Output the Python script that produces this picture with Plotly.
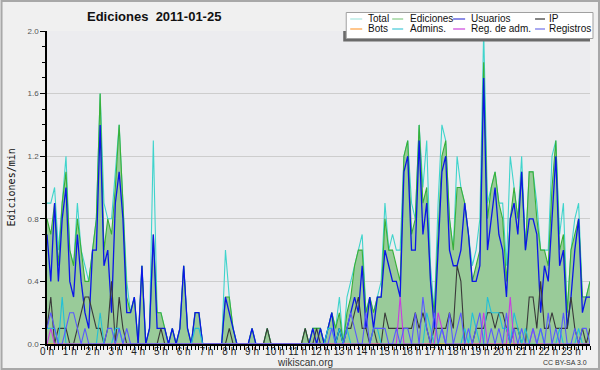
import plotly.graph_objects as go

# ---------------- data (10-minute bins, edits per minute) ----------------
minutes = list(range(0, 1440, 10))
hour_ticks = [0, 60, 120, 180, 240, 300, 360, 420, 480, 540, 600, 660,
              720, 780, 840, 900, 960, 1020, 1080, 1140, 1200, 1260, 1320, 1380]
hour_labels = ["0 h", "1 h", "2 h", "3 h", "4 h", "5 h", "6 h", "7 h", "8 h", "9 h",
               "10 h", "11 h", "12 h", "13 h", "14 h", "15 h", "16 h", "17 h", "18 h",
               "19 h", "20 h", "21 h", "22 h", "23 h"]
y_ticks = [0.0, 0.4, 0.8, 1.2, 1.6, 2.0]

total = [
    0.9, 0.9, 1.0, 0.6, 0.9, 1.2,   0.6, 0.5, 0.9, 0.6, 0.5, 0.4,
    0.6, 0.8, 1.6, 0.9, 0.8, 0.8,   1.1, 1.4, 0.9, 0.4, 0.2, 0.3,
    0.0, 0.5, 0.0, 0.1, 1.3, 0.2,   0.2, 0.1, 0.0, 0.1, 0.0, 0.1,
    0.5, 0.1, 0.0, 0.2, 0.2, 0.0,   0.0, 0.0, 0.0, 0.0, 0.0, 0.6,
    0.3, 0.1, 0.0, 0.0, 0.0, 0.0,   0.1, 0.0, 0.0, 0.0, 0.1, 0.0,
    0.0, 0.0, 0.0, 0.0, 0.0, 0.0,   0.0, 0.0, 0.1, 0.0, 0.1, 0.1,
    0.1, 0.0, 0.1, 0.2, 0.1, 0.3,   0.0, 0.3, 0.4, 0.5, 0.6, 0.7,
    0.2, 0.3, 0.2, 0.3, 0.4, 0.9,   0.6, 0.7, 0.6, 0.6, 1.2, 1.3,
    0.9, 0.8, 1.4, 1.0, 1.3, 0.5,   0.2, 0.9, 1.4, 1.3, 0.8, 0.6,
    1.2, 1.0, 0.9, 0.7, 0.5, 0.6,   0.8, 2.0, 0.9, 1.0, 1.1, 0.9,
    0.9, 0.5, 1.2, 1.0, 0.8, 1.2,   0.6, 1.1, 1.1, 0.9, 0.6, 0.6,
    0.6, 1.2, 1.3, 0.7, 0.9, 0.2,   0.6, 0.8, 0.9, 0.3, 0.3, 0.4,
]
ediciones = [
    0.8, 0.7, 0.9, 0.5, 0.9, 1.1,   0.6, 0.5, 0.8, 0.6, 0.4, 0.4,
    0.6, 0.8, 1.6, 0.6, 0.8, 0.7,   1.0, 1.4, 0.9, 0.3, 0.2, 0.3,
    0.0, 0.5, 0.0, 0.1, 0.7, 0.2,   0.2, 0.1, 0.0, 0.1, 0.0, 0.1,
    0.5, 0.1, 0.0, 0.2, 0.2, 0.0,   0.0, 0.0, 0.0, 0.0, 0.0, 0.3,
    0.3, 0.1, 0.0, 0.0, 0.0, 0.0,   0.1, 0.0, 0.0, 0.0, 0.1, 0.0,
    0.0, 0.0, 0.0, 0.0, 0.0, 0.0,   0.0, 0.0, 0.1, 0.0, 0.1, 0.1,
    0.1, 0.0, 0.1, 0.2, 0.1, 0.2,   0.0, 0.2, 0.3, 0.5, 0.6, 0.6,
    0.2, 0.3, 0.2, 0.3, 0.3, 0.8,   0.6, 0.6, 0.5, 0.4, 1.2, 1.3,
    0.7, 0.8, 1.4, 0.9, 1.0, 0.4,   0.2, 0.7, 1.2, 1.3, 0.8, 0.6,
    1.0, 1.0, 0.9, 0.7, 0.4, 0.5,   0.6, 1.8, 0.8, 1.0, 1.1, 0.9,
    0.8, 0.4, 0.8, 1.0, 0.8, 1.1,   0.6, 1.1, 1.1, 0.8, 0.6, 0.6,
    0.5, 1.0, 1.3, 0.6, 0.7, 0.2,   0.6, 0.7, 0.8, 0.3, 0.3, 0.4,
]
usuarios = [
    0.7, 0.4, 0.9, 0.4, 0.8, 1.0,   0.4, 0.3, 0.7, 0.4, 0.2, 0.1,
    0.6, 0.6, 1.4, 0.5, 0.6, 0.2,   0.9, 1.1, 0.8, 0.2, 0.2, 0.3,
    0.0, 0.5, 0.0, 0.1, 0.7, 0.1,   0.1, 0.1, 0.0, 0.1, 0.0, 0.1,
    0.5, 0.1, 0.0, 0.2, 0.2, 0.0,   0.0, 0.0, 0.0, 0.0, 0.0, 0.3,
    0.2, 0.1, 0.0, 0.0, 0.0, 0.0,   0.1, 0.0, 0.0, 0.0, 0.0, 0.0,
    0.0, 0.0, 0.0, 0.0, 0.0, 0.0,   0.0, 0.0, 0.0, 0.0, 0.1, 0.0,
    0.1, 0.0, 0.1, 0.2, 0.0, 0.1,   0.0, 0.1, 0.2, 0.3, 0.2, 0.5,
    0.1, 0.3, 0.1, 0.3, 0.3, 0.6,   0.5, 0.4, 0.4, 0.3, 1.1, 1.2,
    0.6, 0.6, 1.3, 0.7, 0.9, 0.4,   0.1, 0.6, 1.1, 1.2, 0.6, 0.5,
    0.5, 0.6, 0.9, 0.7, 0.4, 0.4,   0.5, 1.7, 0.6, 0.8, 1.0, 0.7,
    0.6, 0.3, 0.8, 0.9, 0.7, 1.1,   0.6, 0.8, 0.8, 0.7, 0.2, 0.5,
    0.4, 0.8, 1.2, 0.5, 0.6, 0.1,   0.3, 0.6, 0.8, 0.2, 0.3, 0.3,
]
ip = [
    0.1, 0.3, 0.0, 0.1, 0.1, 0.1,   0.0, 0.0, 0.1, 0.2, 0.3, 0.3,
    0.2, 0.1, 0.1, 0.0, 0.1, 0.4,   0.0, 0.3, 0.1, 0.0, 0.0, 0.0,
    0.0, 0.0, 0.0, 0.0, 0.0, 0.0,   0.1, 0.0, 0.0, 0.0, 0.0, 0.0,
    0.0, 0.0, 0.0, 0.0, 0.0, 0.0,   0.0, 0.0, 0.0, 0.0, 0.0, 0.0,
    0.1, 0.0, 0.0, 0.0, 0.0, 0.0,   0.0, 0.0, 0.0, 0.0, 0.1, 0.0,
    0.0, 0.0, 0.0, 0.0, 0.0, 0.0,   0.0, 0.0, 0.1, 0.0, 0.0, 0.1,
    0.0, 0.0, 0.0, 0.0, 0.0, 0.1,   0.0, 0.1, 0.1, 0.2, 0.3, 0.1,
    0.1, 0.0, 0.1, 0.0, 0.0, 0.2,   0.1, 0.1, 0.1, 0.1, 0.1, 0.1,
    0.1, 0.2, 0.1, 0.2, 0.1, 0.0,   0.1, 0.1, 0.1, 0.1, 0.2, 0.1,
    0.5, 0.4, 0.0, 0.0, 0.0, 0.1,   0.1, 0.1, 0.2, 0.2, 0.1, 0.2,
    0.2, 0.1, 0.0, 0.1, 0.1, 0.0,   0.0, 0.3, 0.3, 0.1, 0.4, 0.1,
    0.1, 0.2, 0.1, 0.1, 0.1, 0.1,   0.3, 0.1, 0.0, 0.1, 0.0, 0.1,
]
bots = [0.0] * 144
admins = [
    0.1, 0.1, 0.1, 0.0, 0.3, 0.0,   0.0, 0.0, 0.0, 0.0, 0.0, 0.0,
    0.0, 0.0, 0.2, 0.0, 0.0, 0.0,   0.1, 0.1, 0.0, 0.0, 0.0, 0.0,
    0.0, 0.0, 0.0, 0.0, 0.0, 0.0,   0.0, 0.0, 0.0, 0.0, 0.0, 0.0,
    0.0, 0.0, 0.0, 0.1, 0.1, 0.0,   0.0, 0.0, 0.0, 0.0, 0.0, 0.0,
    0.0, 0.0, 0.0, 0.0, 0.0, 0.0,   0.0, 0.0, 0.0, 0.0, 0.0, 0.0,
    0.0, 0.0, 0.0, 0.0, 0.0, 0.0,   0.0, 0.0, 0.0, 0.0, 0.0, 0.0,
    0.0, 0.0, 0.1, 0.1, 0.0, 0.1,   0.0, 0.1, 0.0, 0.0, 0.0, 0.0,
    0.0, 0.0, 0.1, 0.1, 0.0, 0.0,   0.0, 0.0, 0.0, 0.0, 0.0, 0.0,
    0.0, 0.0, 0.0, 0.0, 0.2, 0.1,   0.0, 0.0, 0.1, 0.0, 0.0, 0.0,
    0.0, 0.0, 0.1, 0.0, 0.2, 0.1,   0.0, 0.0, 0.3, 0.2, 0.2, 0.2,
    0.1, 0.1, 0.0, 0.2, 0.1, 0.0,   0.1, 0.0, 0.0, 0.0, 0.1, 0.0,
    0.0, 0.0, 0.0, 0.1, 0.0, 0.0,   0.0, 0.0, 0.1, 0.0, 0.0, 0.0,
]
reg_adm = [
    0.0, 0.1, 0.0, 0.0, 0.0, 0.0,   0.0, 0.0, 0.0, 0.0, 0.0, 0.0,
    0.0, 0.0, 0.0, 0.0, 0.0, 0.0,   0.0, 0.0, 0.0, 0.0, 0.0, 0.0,
    0.0, 0.0, 0.0, 0.0, 0.0, 0.0,   0.0, 0.0, 0.0, 0.0, 0.0, 0.0,
    0.0, 0.0, 0.0, 0.0, 0.0, 0.0,   0.0, 0.0, 0.0, 0.0, 0.0, 0.0,
    0.0, 0.0, 0.0, 0.0, 0.0, 0.0,   0.0, 0.0, 0.0, 0.0, 0.0, 0.0,
    0.0, 0.0, 0.0, 0.0, 0.0, 0.0,   0.0, 0.0, 0.0, 0.0, 0.0, 0.0,
    0.0, 0.0, 0.0, 0.0, 0.0, 0.0,   0.0, 0.0, 0.0, 0.0, 0.0, 0.0,
    0.0, 0.0, 0.0, 0.0, 0.0, 0.0,   0.0, 0.0, 0.0, 0.3, 0.0, 0.0,
    0.0, 0.0, 0.0, 0.0, 0.0, 0.0,   0.0, 0.2, 0.1, 0.0, 0.0, 0.0,
    0.0, 0.0, 0.0, 0.0, 0.0, 0.0,   0.0, 0.2, 0.0, 0.0, 0.0, 0.0,
    0.0, 0.0, 0.3, 0.0, 0.0, 0.0,   0.0, 0.0, 0.1, 0.0, 0.0, 0.0,
    0.0, 0.0, 0.0, 0.0, 0.0, 0.0,   0.0, 0.0, 0.0, 0.0, 0.0, 0.0,
]
registros = [
    0.1, 0.2, 0.1, 0.0, 0.0, 0.1,   0.2, 0.2, 0.1, 0.0, 0.1, 0.0,
    0.0, 0.0, 0.0, 0.0, 0.1, 0.1,   0.0, 0.1, 0.0, 0.1, 0.0, 0.0,
    0.0, 0.0, 0.0, 0.0, 0.0, 0.0,   0.0, 0.0, 0.0, 0.0, 0.0, 0.0,
    0.0, 0.0, 0.0, 0.0, 0.0, 0.0,   0.0, 0.0, 0.0, 0.0, 0.0, 0.0,
    0.0, 0.0, 0.0, 0.0, 0.0, 0.0,   0.0, 0.0, 0.0, 0.0, 0.0, 0.0,
    0.0, 0.0, 0.0, 0.0, 0.0, 0.0,   0.0, 0.0, 0.0, 0.0, 0.0, 0.0,
    0.0, 0.0, 0.0, 0.1, 0.0, 0.0,   0.0, 0.1, 0.2, 0.1, 0.0, 0.0,
    0.2, 0.0, 0.1, 0.1, 0.1, 0.1,   0.0, 0.0, 0.1, 0.0, 0.1, 0.1,
    0.0, 0.2, 0.0, 0.3, 0.1, 0.0,   0.2, 0.0, 0.1, 0.0, 0.2, 0.0,
    0.1, 0.2, 0.0, 0.1, 0.0, 0.1,   0.2, 0.0, 0.0, 0.1, 0.0, 0.1,
    0.0, 0.2, 0.0, 0.1, 0.0, 0.1,   0.0, 0.0, 0.1, 0.0, 0.1, 0.0,
    0.2, 0.0, 0.1, 0.0, 0.2, 0.0,   0.0, 0.1, 0.0, 0.1, 0.1, 0.0,
]

series_names = ["Total", "Ediciones", "Usuarios", "IP", "Bots", "Admins.", "Reg. de adm.", "Registros"]
line_colors = ["#3fd4cc", "#38b038", "#0b16e8", "#3a3a3a", "#ff9a30", "#22c0d8", "#c83ce0", "#5a5aff"]
legend_colors = ["#a8e6e0", "#88cc88", "#4040d8", "#333333", "#ffa040", "#44c8d8", "#cc44dd", "#7070e8"]

# ---------------- figure ----------------
W, H = 600, 370
L, R, T, B = 46.5, 10, 31, 26
PW, PH = W - L - R, H - T - B


def px(x):
    return (x - L) / PW


def py(y):
    return (H - B - y) / PH


fig = go.Figure()
data = [total, ediciones, usuarios, ip, bots, admins, reg_adm, registros]
for name, vals, col in zip(series_names, data, line_colors):
    kw = dict(x=minutes, y=vals, name=name, mode="lines",
              line=dict(color=col, width=1.3 if name == "Usuarios" else 1.1),
              showlegend=False, hoverinfo="skip")
    if name == "Ediciones":
        kw["fill"] = "tozeroy"
        kw["fillcolor"] = "#99cb99"
    fig.add_trace(go.Scatter(**kw))

shapes = []
annotations = []

# outer frame
shapes.append(dict(type="rect", xref="paper", yref="paper",
                   x0=px(1), x1=px(599), y0=py(369), y1=py(1),
                   line=dict(color="#a8a8a8", width=2), layer="below"))

# legend box: shadow (clipped to plot) + box
shapes.append(dict(type="rect", xref="paper", yref="paper",
                   x0=px(343), x1=px(590), y0=py(41.5), y1=py(31),
                   line=dict(width=0), fillcolor="#6a6a6a", layer="above"))
shapes.append(dict(type="rect", xref="paper", yref="paper",
                   x0=px(346), x1=px(593), y0=py(38.5), y1=py(12.5),
                   line=dict(color="#a0a0a0", width=1), fillcolor="#ffffff", layer="above"))

col_line_x = [(350, 362), (392, 403), (453, 465), (535, 545)]
col_text_x = [366, 408, 469, 547]
row_y = [19, 29]
for k, (name, col) in enumerate(zip(series_names, legend_colors)):
    r, c = divmod(k, 4)
    x0, x1 = col_line_x[c]
    shapes.append(dict(type="line", xref="paper", yref="paper",
                       x0=px(x0), x1=px(x1), y0=py(row_y[r]), y1=py(row_y[r]),
                       line=dict(color=col, width=1.2), layer="above"))
    annotations.append(dict(text=name, xref="paper", yref="paper",
                            x=px(col_text_x[c]), y=py(row_y[r]), xanchor="left", yanchor="middle",
                            showarrow=False, font=dict(size=10, color="#111111",
                                                       family="Liberation Sans")))

# title and footer texts
annotations.append(dict(text="<b>Ediciones  2011-01-25</b>", xref="paper", yref="paper",
                        x=px(154), y=py(16.5), xanchor="center", yanchor="middle", showarrow=False,
                        font=dict(size=13, color="#111111", family="Liberation Sans")))
annotations.append(dict(text="Ediciones/min", xref="paper", yref="paper",
                        x=px(10), y=py(188), xanchor="center", yanchor="middle", textangle=-90,
                        showarrow=False, font=dict(size=10, color="#111111", family="DejaVu Sans Mono")))
annotations.append(dict(text="wikiscan.org", xref="paper", yref="paper",
                        x=px(305), y=py(362.5), xanchor="center", yanchor="middle", showarrow=False,
                        font=dict(size=10, color="#333333", family="Liberation Sans")))
annotations.append(dict(text="CC BY-SA 3.0", xref="paper", yref="paper",
                        x=px(589), y=py(362.5), xanchor="right", yanchor="middle", showarrow=False,
                        font=dict(size=7, color="#333333", family="Liberation Sans")))

fig.update_layout(
    width=W, height=H, autosize=False,
    margin=dict(l=L, r=R, t=T, b=B, pad=0),
    paper_bgcolor="#f0f0f0", plot_bgcolor="#ececef",
    font=dict(family="Liberation Sans", size=10, color="#222222"),
    shapes=shapes, annotations=annotations, showlegend=False,
)
fig.update_xaxes(
    range=[0, 1430], tickmode="array", tickvals=hour_ticks, ticktext=hour_labels,
    ticks="outside", ticklen=4, tickwidth=1, tickcolor="#000000",
    showline=True, linecolor="#000000", linewidth=1.5,
    showgrid=False, zeroline=False,
    tickfont=dict(size=10, color="#222222", family="Liberation Sans"),
    minor=dict(ticks="outside", ticklen=4, tickwidth=1, tickcolor="#000000",
               tickmode="linear", tick0=0, dtick=10, showgrid=False),
    ticklabelstandoff=-7,
)
fig.update_yaxes(
    range=[0, 2.0], tickmode="array", tickvals=y_ticks, tickformat=".1f",
    ticks="outside", ticklen=5, tickwidth=1, tickcolor="#000000",
    showline=True, linecolor="#000000", linewidth=1.5,
    showgrid=True, gridcolor="#cdcdcd", gridwidth=1, zeroline=False,
    tickfont=dict(size=8, color="#555555", family="Liberation Sans"),
    minor=dict(ticks="outside", ticklen=3, tickwidth=1, tickcolor="#000000",
               tickmode="linear", tick0=0, dtick=0.1, showgrid=False),
)

fig.write_html("out.html", config={"displayModeBar": False},
               post_script="document.body.style.margin='0';")
